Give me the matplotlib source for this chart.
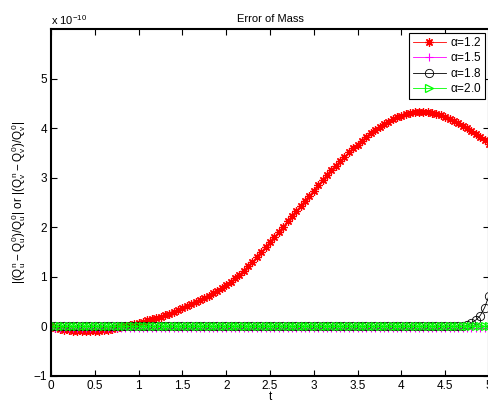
import numpy as np
import matplotlib
matplotlib.use("Agg")
import matplotlib.pyplot as plt

plt.rcParams["font.family"] = ["Liberation Sans", "DejaVu Sans"]
plt.rcParams["mathtext.fontset"] = "custom"
plt.rcParams["mathtext.rm"] = "Liberation Sans"
plt.rcParams["mathtext.it"] = "Liberation Sans"

# time grid (step 0.05)
t = np.linspace(0, 5, 101)

# relative mass error, units of 1e-10
err_12 = [
    0.00, -0.03, -0.05, -0.07, -0.08, -0.09, -0.10, -0.10, -0.10, -0.10,
    -0.09, -0.09, -0.08, -0.07, -0.05, -0.04, -0.02, 0.00, 0.02, 0.04,
    0.07, 0.09, 0.12, 0.14, 0.17, 0.20, 0.23, 0.26, 0.30, 0.33,
    0.37, 0.41, 0.45, 0.49, 0.53, 0.57, 0.62, 0.67, 0.72, 0.78,
    0.84, 0.90, 0.97, 1.04, 1.12, 1.21, 1.30, 1.40, 1.50, 1.60,
    1.70, 1.80, 1.91, 2.01, 2.12, 2.22, 2.33, 2.43, 2.54, 2.64,
    2.74, 2.85, 2.95, 3.05, 3.15, 3.24, 3.33, 3.42, 3.51, 3.59,
    3.67, 3.75, 3.83, 3.90, 3.97, 4.03, 4.08, 4.13, 4.18, 4.22,
    4.25, 4.28, 4.30, 4.32, 4.33, 4.33, 4.32, 4.31, 4.29, 4.26,
    4.22, 4.18, 4.14, 4.10, 4.05, 4.00, 3.95, 3.89, 3.83, 3.76,
    3.69,
]
err_15 = [-0.03] * 101
err_18 = [0.0] * 95 + [0.02, 0.07, 0.13, 0.22, 0.38, 0.62]
err_20 = [0.0] * 101

fig = plt.figure(figsize=(4.88, 4.03), dpi=100)
ax = fig.add_axes([51 / 488, 27 / 403, 438 / 488, 347 / 403])

star = (8, 2, 0)  # matlab-style asterisk
ax.plot(t, err_12, "-", marker=star, color="red", lw=0.6, ms=6, mew=0.9, label=r"$\alpha$=1.2")
ax.plot(t, err_15, "-+", color="magenta", lw=0.6, ms=6, mew=0.8, label=r"$\alpha$=1.5")
ax.plot(t, err_18, "-o", color="black", lw=0.6, ms=6, mfc="none", mew=0.6, label=r"$\alpha$=1.8")
ax.plot(t, err_20, "->", color="lime", lw=0.6, ms=6, mfc="none", mew=0.9, label=r"$\alpha$=2.0")

ax.set_xlim(0, 5)
ax.set_ylim(-1, 6)
ax.set_xticks(np.arange(0, 5.01, 0.5))
ax.set_xticklabels(["0", "0.5", "1", "1.5", "2", "2.5", "3", "3.5", "4", "4.5", "5"])
ax.set_yticks(range(-1, 6))
ax.tick_params(direction="in", length=4, width=0.8, labelsize=8.5, top=True, right=True, pad=3)
for s in ax.spines.values():
    s.set_linewidth(1.5)

ax.set_title("Error of Mass", fontsize=8, pad=5)
ax.set_xlabel("t", fontsize=8.5, labelpad=-1)
ax.set_ylabel(r"$|(Q_u^n-Q_u^0)/Q_u^0|$ or $|(Q_v^n-Q_v^0)/Q_v^0|$", fontsize=8.5, labelpad=4)
fig.text(51 / 488, 1 - 20 / 403, r"x 10$^{-10}$", fontsize=8, va="center")

leg = ax.legend(loc="upper right", fontsize=8.5, fancybox=False, edgecolor="black",
                framealpha=1, borderaxespad=0.3, handlelength=2.8, labelspacing=0.2,
                borderpad=0.3, handletextpad=0.4)
leg.get_frame().set_linewidth(0.8)

fig.savefig("out.png", dpi=100)
